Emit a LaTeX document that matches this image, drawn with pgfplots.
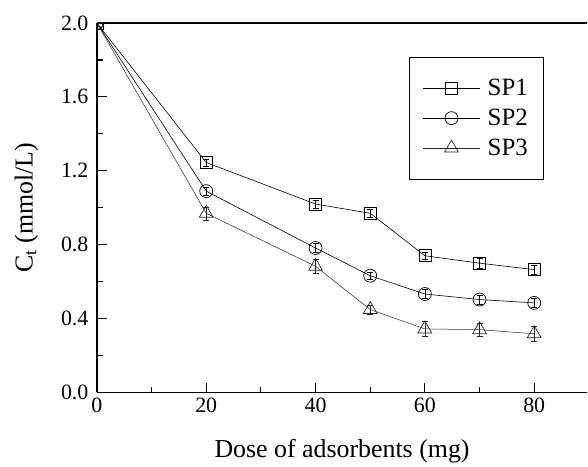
\documentclass[border=0pt]{standalone}
\usepackage{fontspec}
\setmainfont{Liberation Serif}
\usepackage{pgfplots}
\pgfplotsset{compat=1.18}
\begin{document}
\begin{tikzpicture}
\begin{axis}[name=ax, scale only axis, width=491bp, height=370bp,
  xmin=0, xmax=89.7, ymin=0, ymax=2,
  axis y line*=left, axis x line*=box,
  xtick pos=bottom, ytick pos=left,
  xtick={0,20,40,60,80}, minor xtick={10,30,50,70},
  ytick={0,0.4,...,2.0}, minor ytick={0.2,0.6,1.0,1.4,1.8},
  tick align=inside,
  major tick length=10bp, minor tick length=6bp,
  every tick/.style={black, line width=1.2bp},
  axis line style={line width=1.5bp},
  clip marker paths=true,
  /pgf/number format/assume math mode=true,
  yticklabel style={xshift=-5bp, /pgf/number format/.cd, fixed, fixed zerofill, precision=1},
  xticklabel style={yshift=-2bp},
  ticklabel style={font=\fontsize{22}{25}\selectfont},
  label style={font=\fontsize{26}{29}\selectfont},
  xlabel={Dose of adsorbents (mg)},
  xlabel style={yshift=-20bp},
  ylabel={C\textsubscript{t} (mmol/L)},
  ylabel style={yshift=16bp},
  legend style={at={(0.91,0.908)}, anchor=north east, draw=black, line width=0.6bp,
    font=\fontsize{25}{28}\selectfont, nodes={font=\fontsize{25}{28}\selectfont},
    inner xsep=13bp, inner ysep=20bp, row sep=8bp, column sep=5bp},
  legend cell align=left,
  legend image code/.code={\draw[mark repeat=2,mark phase=2]
    plot coordinates {(0bp,0bp)(29bp,0bp)(58bp,0bp)};},
  error bars/error mark options={rotate=90, mark size=3bp, line width=0.4bp},
]
\addplot[black, line width=0.6bp, mark=square, mark size=6bp, mark options={solid, line width=0.7bp},
  error bars/.cd, y dir=both, y explicit, error bar style={line width=0.4bp}]
  coordinates {(0,2.0) +- (0,0) (20,1.245) +- (0,0.02) (40,1.02) +- (0,0.02) (50,0.97) +- (0,0.02)
               (60,0.74) +- (0,0.02) (70,0.70) +- (0,0.025) (80,0.665) +- (0,0.025)};
\addlegendentry{SP1}
\addplot[black, line width=0.6bp, mark=o, mark size=6.5bp, mark options={solid, line width=0.7bp},
  error bars/.cd, y dir=both, y explicit, error bar style={line width=0.4bp}]
  coordinates {(0,2.0) +- (0,0) (20,1.09) +- (0,0.02) (40,0.782) +- (0,0.025) (50,0.632) +- (0,0.02)
               (60,0.533) +- (0,0.025) (70,0.503) +- (0,0.025) (80,0.485) +- (0,0.025)};
\addlegendentry{SP2}
\addplot[black!85, line width=0.5bp, mark=triangle, mark size=8bp, mark options={solid, line width=0.7bp},
  error bars/.cd, y dir=both, y explicit, error bar style={line width=0.4bp}]
  coordinates {(0,2.0) +- (0,0) (20,0.97) +- (0,0.035) (40,0.683) +- (0,0.04) (50,0.449) +- (0,0.025)
               (60,0.344) +- (0,0.04) (70,0.34) +- (0,0.035) (80,0.318) +- (0,0.04)};
\addlegendentry{SP3}
\end{axis}
\path (ax.south west) ++(-97bp,-71bp) coordinate (bl);
\path (ax.north east) ++(0,23bp) coordinate (tr);
\path (bl) rectangle (tr);
\end{tikzpicture}
\end{document}
